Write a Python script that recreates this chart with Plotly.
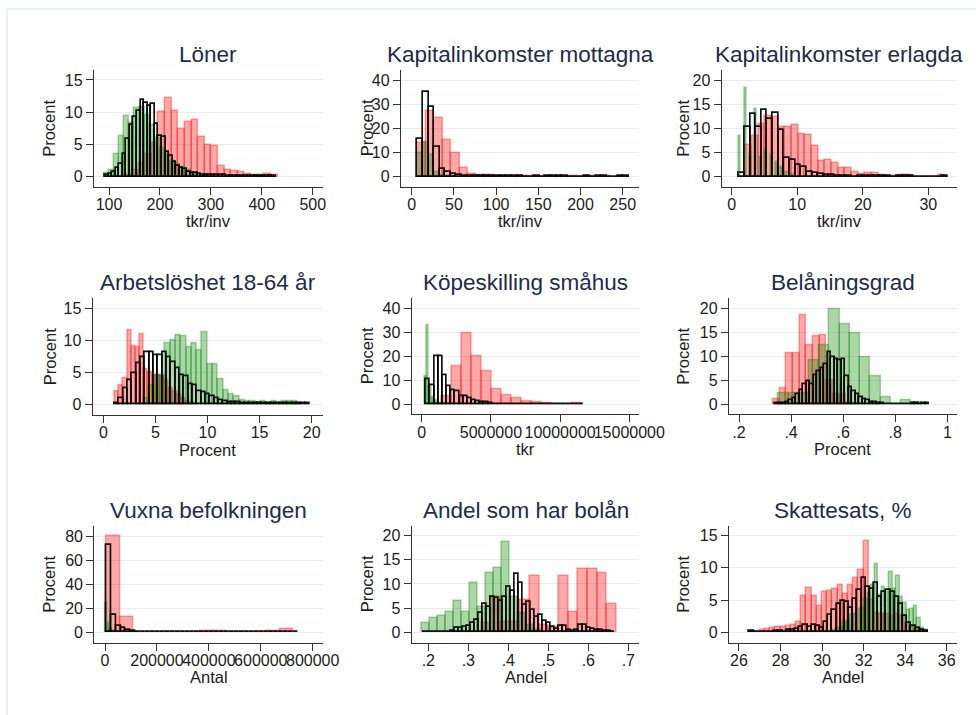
import numpy as np
import plotly.graph_objects as go

W, H = 976, 715

# ---------------- Löner (tkr/inv)
loner_red_start, loner_red_width = 132, 13
loner_red = [0.3, 1.0, 2.2, 3.5, 5.2, 10.1, 12.2, 10.2, 7.4, 8.5, 8.8, 6.1, 4.9, 4.7,
             1.7, 1.0, 0.9, 0.8, 0.4, 0.3, 0.3, 0.4, 0.3]
loner_green_start, loner_green_width = 90, 10
loner_green = [0.5, 1.0, 3.6, 6.3, 9.4, 8.3, 10.6, 10.8, 9.5, 8.0, 6.0, 4.5, 3.5, 2.5,
               2.0, 1.5, 1.0, 0.6, 0.4, 0.3, 0.2]
loner_black_start, loner_black_width = 92, 7
loner_black = [0.2, 0.4, 0.8, 1.3, 2.0, 3.5, 5.8, 8.0, 9.3, 10.2, 11.9, 11.5, 11.0, 11.2,
               8.2, 6.3, 6.2, 3.8, 3.2, 2.3, 1.6, 1.4, 1.2, 0.8, 0.6, 0.5, 0.4, 0.3,
               0.2, 0.2, 0.2, 0.2, 0.2, 0.2, 0.15, 0.15, 0.15, 0.15, 0.15, 0.15, 0.15,
               0.15, 0.15, 0.15, 0.15, 0.15, 0.15, 0.15]

# ---------------- Kapitalinkomster mottagna (tkr/inv)
km_red_start, km_red_width = 6.7, 10
km_red = [13.8, 27.2, 24.1, 15.2, 9.9, 3.4, 1.1, 0.8, 0.5, 0.3, 0.2, 0.2, 0.1, 0.2, 0,
          0.2, 0.2, 0, 0.2, 0, 0.3, 0, 0.3]
km_green_start, km_green_width = 6.7, 6.6
km_green = [9.7, 14.5, 9.0, 2.0, 0.7, 0.3, 0.2]
km_black_start, km_black_width = 6.7, 6.6
km_black = [15.6, 35.2, 28.7, 12.4, 3.0, 2.0, 1.1, 0.7, 0.3, 0.3, 0.3, 0.3, 0.3, 0.3,
            0.3, 0.3, 0.3, 0.3, 0.3, 0, 0, 0.3, 0, 0.3, 0.3, 0.3, 0.3, 0, 0, 0, 0.3,
            0, 0.3, 0.3, 0, 0, 0.3, 0.3]

# ---------------- Kapitalinkomster erlagda (tkr/inv)
ke_red_start, ke_red_width = 2.03, 1.017
ke_red = [6.6, 8.5, 11.0, 12.6, 12.3, 10.3, 10.2, 10.6, 8.8, 8.6, 6.3, 3.2, 3.4, 2.8,
          1.9, 1.7, 1.0, 0.6, 0.7, 0.7, 0.3, 0.2, 0.2, 0.3, 0.3, 0, 0, 0, 0, 0.3]
ke_green_x = [1.25, 2.1, 2.85, 3.7, 4.45, 5.25, 6.05, 6.85, 7.65, 8.45, 9.25]
ke_green_width = 0.3
ke_green = [8.4, 18.3, 4.5, 14.1, 4.0, 5.5, 4.5, 3.0, 2.0, 1.0, 0.5]
ke_black_start, ke_black_width = 1.1, 0.86
ke_black = [0.7, 10.3, 13.0, 10.3, 13.8, 12.0, 13.2, 9.7, 3.8, 3.4, 2.4, 2.1, 1.0, 0.7,
            0.55, 0.35, 0.25, 0.2, 0.2, 0.2, 0, 0.2, 0.2, 0.2, 0.15, 0.15, 0.2, 0, 0.2,
            0.2, 0.2, 0, 0, 0, 0, 0, 0.2]

# ---------------- Arbetslöshet 18-64 år (procent)
al_red_start, al_red_width = 1.1, 0.4
al_red = [2.0, 2.9, 4.1, 11.5, 9.1, 8.9, 11.0, 5.5, 5.0, 4.6, 4.5, 4.3, 3.8, 2.5, 2.0,
          1.5, 1.0, 0.5, 0.3]
al_green_start, al_green_width = 3.88, 0.51
al_green = [1.0, 3.0, 4.6, 4.6, 9.5, 10.0, 10.8, 10.6, 8.9, 9.6, 8.5, 11.2, 6.3, 6.3,
            3.9, 2.2, 1.5, 1.3, 0.7, 0.4, 0.4, 0.3, 0.4, 0.2, 0.4, 0.2, 0.4, 0.4, 0.4,
            0.2]
al_black_start, al_black_width = 1.1, 0.416
al_black = [0.2, 0.9, 2.5, 3.7, 4.8, 6.4, 7.4, 8.1, 8.1, 7.7, 7.6, 8.1, 7.4, 6.5, 5.7,
            4.6, 4.3, 3.2, 3.0, 2.1, 1.8, 1.5, 1.2, 0.9, 0.7, 0.4, 0.3, 0.3, 0.25, 0.2,
            0.2, 0.2, 0.15, 0.15, 0.2, 0.15, 0.15, 0.2, 0.15, 0.15, 0.2, 0.15, 0.2,
            0.15, 0.15]

# ---------------- Köpeskilling småhus
kp_red_start, kp_red_width = 1450000, 720000
kp_red = [3.2, 15.7, 29.6, 19.9, 13.6, 6.3, 3.9, 2.5, 1.1, 0.7, 0.4, 0.2, 0, 0.3]
kp_green_start, kp_green_width = 200000, 170000
kp_green = [11.5, 33.0, 7.6, 3.0, 1.5, 0.8, 0.5, 0.3]
kp_black_start, kp_black_width = 310000, 300000
kp_black = [10.4, 7.8, 20.1, 20.1, 12.2, 7.6, 6.0, 5.3, 3.5, 3.2, 2.5, 1.8, 1.1, 0.7,
            0.7, 0.4, 0.2, 0.2, 0.2, 0.2, 0.2, 0.2, 0.2, 0.2, 0.2, 0.2, 0.2, 0.2, 0,
            0.2, 0.2, 0.2, 0, 0, 0, 0, 0, 0.2]

# ---------------- Belåningsgrad (andel)
bg_red_start, bg_red_width = 0.33, 0.0256
bg_red = [1.0, 3.3, 10.6, 10.6, 18.6, 12.2, 14.2, 14.4, 5.0, 2.0, 2.0, 0.5]
bg_green_start, bg_green_width = 0.351, 0.0393
bg_green = [2.3, 2.3, 2.3, 9.2, 12.2, 19.7, 16.7, 14.7, 9.7, 5.8, 1.5, 0, 0.9, 0.5]
bg_black_start, bg_black_width = 0.34, 0.0134
bg_black = [0.2, 0.3, 0.3, 0.5, 0.9, 1.3, 2.1, 2.9, 4.1, 4.7, 4.2, 6.1, 6.8, 7.5, 8.3,
            10.8, 9.8, 9.4, 9.2, 9.4, 5.8, 3.5, 2.8, 2.1, 1.4, 1.0, 0.8, 0.5, 0.5, 0.3,
            0.2, 0.1, 0.1, 0.1, 0.1, 0, 0, 0, 0, 0.2, 0.2, 0.1, 0.2, 0.2]

# ---------------- Vuxna befolkningen (antal)
vb_red_start, vb_red_width = 6400, 51300
vb_red = [80.0, 13.0, 0, 0, 0, 0, 0, 1.2, 1.2, 0, 0, 0, 0.8, 3.0]
vb_green_start, vb_green_width = 0, 9000
vb_green = [24.0, 7.5, 3.0, 1.0, 0.5]
vb_black_start, vb_black_width = 3850, 19000
vb_black = [72.6, 14.4, 5.3, 3.3, 2.2, 1.1, 0.6, 0.4, 0.3, 0.3, 0, 0, 0.3, 0.3, 0, 0,
            0, 0, 0, 0, 0, 0.3, 0.3, 0, 0, 0, 0, 0, 0, 0, 0, 0, 0, 0, 0, 0, 0.3, 0.3,
            0.3]

# ---------------- Andel som har bolån
ab_red_start, ab_red_width = 0.3325, 0.0242
ab_red = [2.0, 7.4, 2.2, 2.2, 6.7, 11.7, 1.5, 1.0, 11.7, 4.3, 13.1, 13.1, 12.2, 5.8]
ab_green_start, ab_green_width = 0.1833, 0.02
ab_green = [1.9, 2.9, 3.4, 4.3, 6.4, 4.3, 10.3, 5.3, 12.2, 13.3, 18.6, 7.3, 3.9, 1.5,
            0.5]
ab_black_start, ab_black_width = 0.1867, 0.01
ab_black = [0.1, 0.1, 0.1, 0, 0.1, 0.1, 0.1, 0.2, 0.8, 0.9, 1.2, 1.4, 1.9, 2.5, 3.9,
            5.9, 5.2, 7.4, 7.0, 6.4, 7.3, 9.3, 8.5, 12.1, 10.2, 5.7, 6.2, 4.7, 3.2,
            3.6, 2.4, 2.0, 1.0, 0.7, 1.4, 1.4, 0.5, 0.3, 0.4, 1.6, 1.6, 0.9, 0.6, 0.5,
            0.5, 0.3, 0.2, 0.1]

# ---------------- Skattesats, %
sk_red_start, sk_red_width = 26.5, 0.25
sk_red = [0.2, 0, 0.3, 0.5, 0.7, 0.9, 0.8, 1.0, 1.2, 1.6, 5.6, 6.9, 5.6, 4.1, 6.3, 6.4,
          6.8, 7.4, 6.0, 7.4, 8.5, 9.6, 14.1, 5.0, 3.0, 2.9, 2.8, 2.5, 2.8, 2.5, 1.5,
          0.8, 0.5, 0.3]
sk_green_start, sk_green_width = 30.5, 0.17
sk_green = [0.3, 0.6, 0.9, 1.6, 1.8, 2.7, 2.9, 3.6, 3.8, 5.2, 6.1, 7.3, 10.6, 5.8, 7.1,
            6.2, 9.4, 6.8, 8.8, 5.5, 4.6, 3.4, 3.6, 4.1, 2.2, 0.6, 0.3]
sk_black_start, sk_black_width = 26.5, 0.2
sk_black = [0.2, 0, 0, 0.1, 0.1, 0.1, 0.2, 0.2, 0.1, 0.3, 0.3, 0.5, 0.8, 1.1, 0.8, 1.1,
            1.0, 0.6, 1.6, 2.7, 3.5, 4.4, 4.8, 4.7, 3.8, 5.2, 6.6, 8.4, 7.1, 6.7, 7.7,
            5.5, 6.2, 6.5, 6.2, 5.5, 4.4, 2.6, 1.4, 1.0, 0.6, 0.4, 0.2]


def centers(start, width, n):
    return start + width * (np.arange(n) + 0.5)


RED = dict(fill="rgba(255,0,0,0.34)", line="rgba(255,0,0,0.34)", lw=1.5)
GREEN = dict(fill="rgba(10,135,0,0.34)", line="rgba(10,135,0,0.34)", lw=1.5)
BLACK = dict(fill="rgba(0,0,0,0)", line="rgba(0,0,0,0.92)", lw=1.7)

# panel: title, x title, plot box in px (x0, x1, y0, y1), ranges, ticks, series
panels = [
    dict(title="Löner", xtitle="tkr/inv", box=(94, 322.7, 70, 186.7),
         xr=(70.5, 519.6), yr=(-1.55, 16.55),
         xt=[100, 200, 300, 400, 500], xl=None, yt=[0, 5, 10, 15], ytx=49.5,
         series=[(centers(loner_red_start, loner_red_width, len(loner_red)), loner_red, loner_red_width, RED),
                 (centers(loner_green_start, loner_green_width, len(loner_green)), loner_green, loner_green_width, GREEN),
                 (centers(loner_black_start, loner_black_width, len(loner_black)), loner_black, loner_black_width, BLACK)]),
    dict(title="Kapitalinkomster mottagna", xtitle="tkr/inv", box=(401, 639.3, 70, 186.7),
         xr=(-12.7, 269.7), yr=(-4.14, 44.14),
         xt=[0, 50, 100, 150, 200, 250], xl=None, yt=[0, 10, 20, 30, 40], ytx=367,
         series=[(centers(km_red_start, km_red_width, len(km_red)), km_red, km_red_width, RED),
                 (centers(km_green_start, km_green_width, len(km_green)), km_green, km_green_width, GREEN),
                 (centers(km_black_start, km_black_width, len(km_black)), km_black, km_black_width, BLACK)]),
    dict(title="Kapitalinkomster erlagda", xtitle="tkr/inv", box=(721.7, 956.7, 70, 186.7),
         xr=(-1.53, 34.33), yr=(-2.07, 22.07),
         xt=[0, 10, 20, 30], xl=None, yt=[0, 5, 10, 15, 20], ytx=683.5,
         series=[(centers(ke_red_start, ke_red_width, len(ke_red)), ke_red, ke_red_width, RED),
                 (np.array(ke_green_x), ke_green, ke_green_width, GREEN),
                 (centers(ke_black_start, ke_black_width, len(ke_black)), ke_black, ke_black_width, BLACK)]),
    dict(title="Arbetslöshet 18-64 år", xtitle="Procent", box=(92.7, 322.7, 298.3, 415),
         xr=(-1.02, 21.06), yr=(-1.67, 16.56),
         xt=[0, 5, 10, 15, 20], xl=None, yt=[0, 5, 10, 15], ytx=49.5,
         series=[(centers(al_red_start, al_red_width, len(al_red)), al_red, al_red_width, RED),
                 (centers(al_green_start, al_green_width, len(al_green)), al_green, al_green_width, GREEN),
                 (centers(al_black_start, al_black_width, len(al_black)), al_black, al_black_width, BLACK)]),
    dict(title="Köpeskilling småhus", xtitle="tkr", box=(411.7, 639.3, 298.3, 414.3),
         xr=(-722540, 15722540), yr=(-4.17, 44.17),
         xt=[0, 5000000, 10000000, 15000000], xl=["0", "5000000", "10000000", "15000000"],
         yt=[0, 10, 20, 30, 40], ytx=367,
         series=[(centers(kp_red_start, kp_red_width, len(kp_red)), kp_red, kp_red_width, RED),
                 (centers(kp_green_start, kp_green_width, len(kp_green)), kp_green, kp_green_width, GREEN),
                 (centers(kp_black_start, kp_black_width, len(kp_black)), kp_black, kp_black_width, BLACK)]),
    dict(title="Belåningsgrad", xtitle="Procent", box=(729, 956.7, 298.3, 414.3),
         xr=(0.1616, 1.036), yr=(-2.08, 22.08),
         xt=[0.2, 0.4, 0.6, 0.8, 1.0], xl=[".2", ".4", ".6", ".8", "1"],
         yt=[0, 5, 10, 15, 20], ytx=683.5,
         series=[(centers(bg_red_start, bg_red_width, len(bg_red)), bg_red, bg_red_width, RED),
                 (centers(bg_green_start, bg_green_width, len(bg_green)), bg_green, bg_green_width, GREEN),
                 (centers(bg_black_start, bg_black_width, len(bg_black)), bg_black, bg_black_width, BLACK)]),
    dict(title="Vuxna befolkningen", xtitle="Antal", box=(94.3, 322.7, 526, 642.7),
         xr=(-41200, 838500), yr=(-8.6, 88.3),
         xt=[0, 200000, 400000, 600000, 800000],
         xl=["0", "200000", "400000", "600000", "800000"],
         yt=[0, 20, 40, 60, 80], ytx=49.5,
         series=[(centers(vb_red_start, vb_red_width, len(vb_red)), vb_red, vb_red_width, RED),
                 (centers(vb_green_start, vb_green_width, len(vb_green)), vb_green, vb_green_width, GREEN),
                 (centers(vb_black_start, vb_black_width, len(vb_black)), vb_black, vb_black_width, BLACK)]),
    dict(title="Andel som har bolån", xtitle="Andel", box=(411.7, 639.3, 526, 642.7),
         xr=(0.1585, 0.7275), yr=(-2.15, 22.0),
         xt=[0.2, 0.3, 0.4, 0.5, 0.6, 0.7], xl=[".2", ".3", ".4", ".5", ".6", ".7"],
         yt=[0, 5, 10, 15, 20], ytx=367,
         series=[(centers(ab_red_start, ab_red_width, len(ab_red)), ab_red, ab_red_width, RED),
                 (centers(ab_green_start, ab_green_width, len(ab_green)), ab_green, ab_green_width, GREEN),
                 (centers(ab_black_start, ab_black_width, len(ab_black)), ab_black, ab_black_width, BLACK)]),
    dict(title="Skattesats, %", xtitle="Andel", box=(729, 956.7, 526, 642.7),
         xr=(25.52, 36.48), yr=(-1.61, 16.5),
         xt=[26, 28, 30, 32, 34, 36], xl=None, yt=[0, 5, 10, 15], ytx=683.5,
         series=[(centers(sk_red_start, sk_red_width, len(sk_red)), sk_red, sk_red_width, RED),
                 (centers(sk_green_start, sk_green_width, len(sk_green)), sk_green, sk_green_width, GREEN),
                 (centers(sk_black_start, sk_black_width, len(sk_black)), sk_black, sk_black_width, BLACK)]),
]

FONT = "Liberation Sans, Arial, sans-serif"
AXIS_COLOR = "#333333"
TEXT_COLOR = "#1c1c1c"
TITLE_COLOR = "#1e2b4d"
GRID_COLOR = "#e4ecef"

fig = go.Figure()
layout = dict(
    width=W, height=H, autosize=False,
    margin=dict(l=0, r=0, t=0, b=0, pad=0, autoexpand=False),
    paper_bgcolor="white", plot_bgcolor="white",
    barmode="overlay", showlegend=False, bargap=0,
    font=dict(family=FONT, color=TEXT_COLOR, size=16),
)
annotations = []

for i, p in enumerate(panels, start=1):
    xa = "x" if i == 1 else f"x{i}"
    ya = "y" if i == 1 else f"y{i}"
    x0, x1, y0, y1 = p["box"]
    for xs, ys, w, st in p["series"]:
        fig.add_trace(go.Bar(
            x=xs, y=ys, width=w, xaxis=xa, yaxis=ya,
            marker=dict(color=st["fill"], line=dict(color=st["line"], width=st["lw"])),
            hoverinfo="skip",
        ))
    common = dict(showline=True, linecolor=AXIS_COLOR, linewidth=1.3, ticks="outside",
                  ticklen=7, tickwidth=1.3, tickcolor=AXIS_COLOR, zeroline=False,
                  automargin=False,
                  tickfont=dict(family=FONT, size=16, color=TEXT_COLOR), fixedrange=True)
    xkw = dict(common, domain=[x0 / W, x1 / W], range=list(p["xr"]), anchor=ya,
               tickmode="array", tickvals=p["xt"], showgrid=False, tickangle=0,
               ticklabelstandoff=-4)
    if p["xl"] is not None:
        xkw["ticktext"] = p["xl"]
    ykw = dict(common, domain=[1 - y1 / H, 1 - y0 / H], range=list(p["yr"]), anchor=xa,
               tickmode="array", tickvals=p["yt"], showgrid=True, gridcolor=GRID_COLOR,
               gridwidth=1.2, tickangle=0)
    layout["xaxis" if i == 1 else f"xaxis{i}"] = xkw
    layout["yaxis" if i == 1 else f"yaxis{i}"] = ykw

    cx = (x0 + x1) / 2
    annotations.append(dict(text=p["title"], x=cx / W, y=1 - (y0 - 15.5) / H,
                            xref="paper", yref="paper", xanchor="center", yanchor="middle",
                            showarrow=False, font=dict(family=FONT, size=22.5, color=TITLE_COLOR)))
    annotations.append(dict(text=p["xtitle"], x=cx / W, y=1 - (y1 + 34.5) / H,
                            xref="paper", yref="paper", xanchor="center", yanchor="middle",
                            showarrow=False, font=dict(family=FONT, size=16.5, color=TEXT_COLOR)))
    annotations.append(dict(text="Procent", x=p["ytx"] / W, y=1 - ((y0 + y1) / 2) / H,
                            xref="paper", yref="paper", xanchor="center", yanchor="middle",
                            textangle=-90, showarrow=False,
                            font=dict(family=FONT, size=16.5, color=TEXT_COLOR)))

layout["annotations"] = annotations
# light outer frame along the top and left edges, kept inside the canvas
frame = dict(color="#eaf0ee", width=2)
layout["shapes"] = [
    dict(type="line", xref="paper", yref="paper", x0=7 / W, x1=1, y0=1 - 9 / H, y1=1 - 9 / H,
         line=frame, layer="below"),
    dict(type="line", xref="paper", yref="paper", x0=7 / W, x1=7 / W, y0=0, y1=1 - 9 / H,
         line=frame, layer="below"),
]
fig.update_layout(**layout)
fig.write_html("out.html")
